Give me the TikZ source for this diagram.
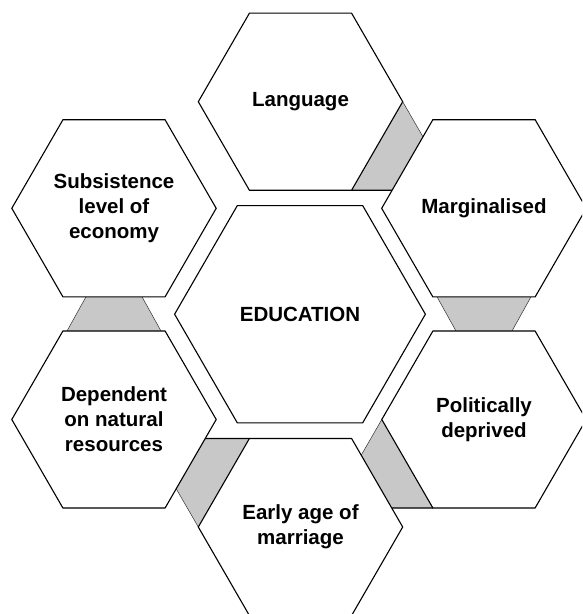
\documentclass[tikz,border=0pt]{standalone}
\usepackage{fontspec}
\setmainfont{Liberation Sans}
\usetikzlibrary{shapes.geometric,calc}
\definecolor{bandgray}{HTML}{C8C8C8}
\begin{document}
\begin{tikzpicture}[x=1pt,y=-1pt,
  hexbox/.style={regular polygon, regular polygon sides=6, draw=black, line width=1.1pt,
    fill=white, inner sep=0pt, outer sep=0pt, minimum size=204.4pt, align=center,
    font=\bfseries\fontsize{20.5}{25}\selectfont},
  bighex/.style={hexbox, minimum size=250.8pt},
  bandedge/.style={line width=1.1pt, black},
  bandthin/.style={line width=0.5pt, black!80}]
\useasboundingbox (0,0) rectangle (582,614);
\clip (0,0) rectangle (582,614);
\def\hR{102.2}\def\hA{51.1}\def\hH{88.5}
% centres
\coordinate (cL) at (300.5,101.7);
\coordinate (cS) at (114,208.3);
\coordinate (cM) at (484,208.3);
\coordinate (cD) at (114,419.5);
\coordinate (cP) at (484,419.5);
\coordinate (cE) at (300.5,527);
\coordinate (cC) at (300,314.2);
% band Language - Marginalised
\coordinate (L0) at ($(cL)+(\hR,0)$);
\coordinate (L60) at ($(cL)+(\hA,-\hH)$);
\coordinate (L300) at ($(cL)+(\hA,\hH)$);
\coordinate (L240) at ($(cL)+(-\hA,\hH)$);
\coordinate (M120) at ($(cM)+(-\hA,-\hH)$);
\coordinate (M180) at ($(cM)+(-\hR,0)$);
\coordinate (LM1) at (intersection of L60--L0 and M120--M180);
\coordinate (LM2) at (intersection of L240--L300 and M120--M180);
\fill[bandgray] (L0) -- (LM1) -- (LM2) -- (L300) -- cycle;
\draw[bandthin] (L0) -- (LM1);
\draw[bandedge] (L300) -- (LM2);
% band Politically - Early
\coordinate (P180) at ($(cP)+(-\hR,0)$);
\coordinate (P120) at ($(cP)+(-\hA,-\hH)$);
\coordinate (P240) at ($(cP)+(-\hA,\hH)$);
\coordinate (P300) at ($(cP)+(\hA,\hH)$);
\coordinate (E60) at ($(cE)+(\hA,-\hH)$);
\coordinate (E0) at ($(cE)+(\hR,0)$);
\coordinate (PE1) at (intersection of P120--P180 and E60--E0);
\coordinate (PE2) at (intersection of P300--P240 and E60--E0);
\fill[bandgray] (P180) -- (PE1) -- (PE2) -- (P240) -- cycle;
\draw[bandthin] (P180) -- (PE1);
\draw[bandedge] (P240) -- (PE2);
% band Dependent - Early
\coordinate (E180) at ($(cE)+(-\hR,0)$);
\coordinate (E120) at ($(cE)+(-\hA,-\hH)$);
\coordinate (E240) at ($(cE)+(-\hA,\hH)$);
\coordinate (D0) at ($(cD)+(\hR,0)$);
\coordinate (D300) at ($(cD)+(\hA,\hH)$);
\coordinate (DE1) at (intersection of E240--E180 and D0--D300);
\coordinate (DE2) at (intersection of E60--E120 and D0--D300);
\fill[bandgray] (E180) -- (DE1) -- (DE2) -- (E120) -- cycle;
\draw[bandthin] (E180) -- (DE1);
\draw[bandedge] (E120) -- (DE2);
% band Subsistence - Dependent
\fill[bandgray] ($(cS)+(-28,\hH)$) -- ($(cS)+(28,\hH)$) -- ($(cD)+(47,-\hH)$) -- ($(cD)+(-47,-\hH)$) -- cycle;
\draw[bandthin] ($(cS)+(-28,\hH)$) -- ($(cD)+(-47,-\hH)$);
\draw[bandthin] ($(cS)+(28,\hH)$) -- ($(cD)+(47,-\hH)$);
% band Marginalised - Politically
\fill[bandgray] ($(cM)+(-47,\hH)$) -- ($(cM)+(47,\hH)$) -- ($(cP)+(28,-\hH)$) -- ($(cP)+(-28,-\hH)$) -- cycle;
\draw[bandthin] ($(cM)+(-47,\hH)$) -- ($(cP)+(-28,-\hH)$);
\draw[bandthin] ($(cM)+(47,\hH)$) -- ($(cP)+(28,-\hH)$);
% hexagons
\node[hexbox] (lang) at (cL) {Language};
\node[hexbox] (subs) at (cS) {Subsistence\\level of\\economy};
\node[hexbox] (marg) at (cM) {Marginalised};
\node[bighex] (edu) at (cC) {EDUCATION};
\node[hexbox] (dep) at (cD) {Dependent\\on natural\\resources};
\node[hexbox] (pol) at (cP) {Politically\\deprived};
\node[hexbox] (early) at (cE) {Early age of\\marriage};
\end{tikzpicture}
\end{document}
